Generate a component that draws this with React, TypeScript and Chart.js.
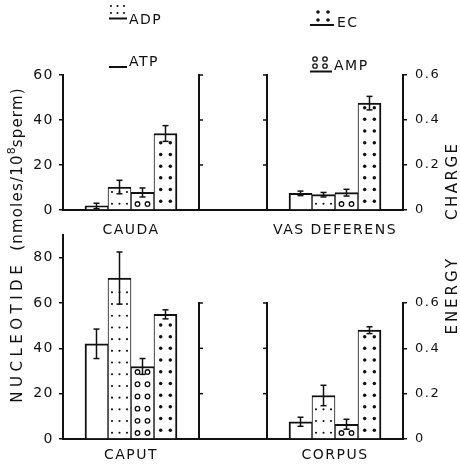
import React, { useEffect, useRef } from 'react';
import { Chart, registerables } from 'chart.js';

Chart.register(...registerables);

// ---------- data ----------
const SERIES = ['ATP', 'ADP', 'AMP', 'EC'];
const TOP_REGIONS = ['CAUDA', 'VAS DEFERENS'];
const BOTTOM_REGIONS = ['CAPUT', 'CORPUS'];

// nucleotides in nmoles/10^8 sperm, energy charge as fraction
const TOP_ATP = [1.8, 7.4];
const TOP_ADP = [10.2, 6.8];
const TOP_AMP = [7.8, 7.7];
const TOP_EC = [0.34, 0.475];
const TOP_ATP_SE = [1.2, 1.0];
const TOP_ADP_SE = [3.0, 1.0];
const TOP_AMP_SE = [2.0, 1.5];
const TOP_EC_SE = [0.035, 0.03];

const BOTTOM_ATP = [42, 7.6];
const BOTTOM_ADP = [71, 19.2];
const BOTTOM_AMP = [32, 6.5];
const BOTTOM_EC = [0.55, 0.48];
const BOTTOM_ATP_SE = [6.5, 2.0];
const BOTTOM_ADP_SE = [11.5, 4.5];
const BOTTOM_AMP_SE = [3.5, 2.2];
const BOTTOM_EC_SE = [0.02, 0.015];

const TOP_NUC_TICKS = [0, 20, 40, 60];
const BOTTOM_NUC_TICKS = [0, 20, 40, 60, 80];
const EC_TICKS = [0, 0.2, 0.4, 0.6];

const TOP_NUC_MAX = 60;
const BOTTOM_NUC_MAX = 90;

// ---------- drawing helpers ----------
const FONT = '"DejaVu Sans", sans-serif';
const INK = '#111';

function drawFill(ctx: CanvasRenderingContext2D, kind: string, left: number, top: number, right: number, bottom: number) {
  if (kind === 'ATP') return;
  const cx = (left + right) / 2;
  ctx.save();
  ctx.beginPath();
  ctx.rect(left, top, right - left, bottom - top);
  ctx.clip();
  ctx.fillStyle = INK;
  ctx.strokeStyle = INK;
  let cols: number[];
  let start: number;
  let step: number;
  let r: number;
  if (kind === 'ADP') { cols = [-7.5, 0, 7.5]; start = 4.5; step = 11.7; r = 1.05; }
  else if (kind === 'AMP') { cols = [-5, 5]; start = 4.2; step = 12.2; r = 2.3; }
  else { cols = [-4.8, 4.8]; start = 7; step = 11.7; r = 1.75; }
  for (let yy = bottom - start; yy > top + 1; yy -= step) {
    for (const dx of cols) {
      ctx.beginPath();
      ctx.arc(cx + dx, yy, r, 0, Math.PI * 2);
      if (kind === 'AMP') { ctx.lineWidth = 1.3; ctx.stroke(); } else ctx.fill();
    }
  }
  ctx.restore();
}

function line(ctx: CanvasRenderingContext2D, x1: number, y1: number, x2: number, y2: number, w: number) {
  ctx.beginPath();
  ctx.lineWidth = w;
  ctx.moveTo(x1, y1);
  ctx.lineTo(x2, y2);
  ctx.stroke();
}

function dot(ctx: CanvasRenderingContext2D, x: number, y: number, r: number, open = false) {
  ctx.beginPath();
  ctx.arc(x, y, r, 0, Math.PI * 2);
  if (open) { ctx.lineWidth = 1.3; ctx.stroke(); } else ctx.fill();
}

type Piece = { t: string; size: number; ls: number; sup?: boolean; gap?: number };

function drawVerticalText(ctx: CanvasRenderingContext2D, pieces: Piece[], cx: number, cy: number) {
  ctx.save();
  ctx.translate(cx, cy);
  ctx.rotate(-Math.PI / 2);
  ctx.textAlign = 'left';
  ctx.textBaseline = 'middle';
  const widths = pieces.map((p) => {
    ctx.font = `${p.size}px ${FONT}`;
    (ctx as any).letterSpacing = `${p.ls}px`;
    return ctx.measureText(p.t).width;
  });
  const total = pieces.reduce((s, p, i) => s + widths[i] + (p.gap || 0), 0);
  let x = -total / 2;
  pieces.forEach((p, i) => {
    ctx.font = `${p.size}px ${FONT}`;
    (ctx as any).letterSpacing = `${p.ls}px`;
    ctx.fillText(p.t, x, p.sup ? -5.5 : 0);
    x += widths[i] + (p.gap || 0);
  });
  ctx.restore();
}

function drawDecor(ctx: CanvasRenderingContext2D) {
  ctx.save();
  ctx.fillStyle = INK;
  ctx.strokeStyle = INK;
  ctx.font = `14px ${FONT}`;
  (ctx as any).letterSpacing = '1.5px';
  ctx.textAlign = 'left';
  ctx.textBaseline = 'alphabetic';
  // ADP swatch
  for (const yy of [6, 13]) for (const xx of [111, 117.5, 124]) dot(ctx, xx, yy, 1.05);
  line(ctx, 109, 18.5, 127, 18.5, 2);
  ctx.fillText(SERIES[1], 129, 24);
  // ATP swatch
  line(ctx, 109, 67, 127, 67, 2);
  ctx.fillText(SERIES[0], 129, 66);
  // EC swatch
  for (const yy of [12, 20]) for (const xx of [318, 328]) dot(ctx, xx, yy, 1.8);
  line(ctx, 310, 25, 334, 25, 2);
  ctx.fillText(SERIES[3], 337, 27);
  // AMP swatch
  for (const yy of [59, 66]) for (const xx of [315, 325]) dot(ctx, xx, yy, 2.2, true);
  line(ctx, 310, 71.5, 332, 71.5, 2);
  ctx.fillText(SERIES[2], 334, 70);

  drawVerticalText(ctx, [
    { t: 'NUCLEOTIDE', size: 15, ls: 4.5, gap: 10 },
    { t: '(nmoles/10', size: 15, ls: 1.2 },
    { t: '8', size: 11, ls: 0, sup: true },
    { t: 'sperm)', size: 15, ls: 1.2 },
  ], 18, 245);
  drawVerticalText(ctx, [
    { t: 'ENERGY', size: 15, ls: 3, gap: 36 },
    { t: 'CHARGE', size: 15, ls: 2.5 },
  ], 453, 238);
  ctx.restore();
}

const figurePlugin = {
  id: 'figure',
  beforeDraw(chart: any) {
    chart.ctx.letterSpacing = '1.5px';
  },
  afterDatasetsDraw(chart: any, _args: any, opts: any) {
    const ctx: CanvasRenderingContext2D = chart.ctx;
    const xs = chart.scales.x;
    const ys = chart.scales.y;
    const y2 = chart.scales.y2;
    ctx.save();
    ctx.strokeStyle = INK;
    ctx.fillStyle = INK;
    // patterns
    chart.data.datasets.forEach((ds: any, k: number) => {
      const meta = chart.getDatasetMeta(k);
      meta.data.forEach((bar: any) => {
        const p = bar.getProps(['x', 'y', 'base', 'width'], true);
        drawFill(ctx, SERIES[k], p.x - p.width / 2 + 1, p.y + 2, p.x + p.width / 2 - 1, p.base - 1);
      });
    });
    // error bars
    chart.data.datasets.forEach((ds: any, k: number) => {
      const meta = chart.getDatasetMeta(k);
      const scale = k === 3 ? y2 : ys;
      const errs: number[] = opts.errors[k];
      meta.data.forEach((bar: any, i: number) => {
        const v = ds.data[i].y;
        const e = errs[i];
        const px = bar.getProps(['x'], true).x;
        const t = scale.getPixelForValue(v + e);
        const b = scale.getPixelForValue(Math.max(0, v - e));
        line(ctx, px, t, px, b, 1.5);
        line(ctx, px - 3, t, px + 3, t, 1.5);
        line(ctx, px - 3, b, px + 3, b, 1.5);
      });
    });
    // inner charge axes and right axis line (0 to 0.6)
    const y0 = y2.getPixelForValue(0);
    const yTop = y2.getPixelForValue(EC_TICKS[EC_TICKS.length - 1]);
    const xa = xs.getPixelForValue(2);
    const xb = xs.getPixelForValue(3);
    const xr = chart.chartArea.right;
    line(ctx, xa, y0, xa, yTop - 1, 2);
    line(ctx, xb, y0, xb, yTop - 1, 2);
    line(ctx, xr, y0, xr, yTop - 1, 2);
    for (const v of EC_TICKS.slice(1)) {
      const yy = y2.getPixelForValue(v);
      line(ctx, xa, yy, xa + 4, yy, 1.5);
      line(ctx, xb - 4, yy, xb, yy, 1.5);
    }
    ctx.restore();
  },
  afterDraw(chart: any, _args: any, opts: any) {
    if (opts.decor) drawDecor(chart.ctx);
    chart.ctx.letterSpacing = '0px';
  },
};

type PanelSpec = {
  regions: string[];
  values: number[][];
  errors: number[][];
  nucMax: number;
  nucTicks: number[];
  areaTop: number;
  axisHeight: number;
  labelPad: number;
  decor: boolean;
};

function makeConfig(p: PanelSpec): any {
  const slot = (i: number) => 1 + 3 * i;
  const borders = [
    { left: 2, right: 1, top: 2, bottom: 0 },
    { left: 1, right: 1, top: 2, bottom: 0 },
    { left: 1, right: 1, top: 2, bottom: 0 },
    { left: 1, right: 2, top: 2, bottom: 0 },
  ];
  const tickFont = { family: FONT, size: 14 };
  const chargeMax = p.nucMax / 100;
  return {
    type: 'bar',
    data: {
      datasets: SERIES.map((name, k) => ({
        label: name,
        data: p.values[k].map((v, i) => ({ x: slot(i), y: v })),
        yAxisID: k === 3 ? 'y2' : 'y',
        backgroundColor: '#fff',
        borderColor: INK,
        borderWidth: borders[k],
        borderSkipped: 'bottom',
        barThickness: 23,
      })),
    },
    options: {
      responsive: false,
      animation: false,
      events: [],
      layout: { padding: { top: p.areaTop, left: 0, right: 0, bottom: 0 } },
      plugins: {
        legend: { display: false },
        tooltip: { enabled: false },
        figure: { errors: p.errors, decor: p.decor },
      },
      scales: {
        x: {
          type: 'linear',
          min: 0,
          max: 5,
          bounds: 'data',
          stacked: false,
          offset: false,
          afterBuildTicks: (s: any) => { s.ticks = p.regions.map((_, i) => ({ value: slot(i) })); },
          afterFit: (s: any) => { s.height = p.axisHeight; },
          ticks: {
            autoSkip: false,
            maxRotation: 0,
            padding: p.labelPad,
            color: INK,
            font: { family: FONT, size: 14 },
            callback: (_v: any, i: number) => p.regions[i],
          },
          grid: { display: false, drawTicks: false },
          border: { display: true, color: INK, width: 2 },
        },
        y: {
          type: 'linear',
          position: 'left',
          min: 0,
          max: p.nucMax,
          bounds: 'data',
          afterBuildTicks: (s: any) => { s.ticks = p.nucTicks.map((v) => ({ value: v })); },
          afterFit: (s: any) => { s.width = 63; },
          ticks: { padding: 5, color: INK, font: tickFont, callback: (v: any) => String(v) },
          grid: { drawOnChartArea: false, drawTicks: true, tickLength: 4, color: INK, lineWidth: 1.5 },
          border: { display: true, color: INK, width: 2 },
        },
        y2: {
          type: 'linear',
          position: 'right',
          min: 0,
          max: chargeMax,
          bounds: 'data',
          afterBuildTicks: (s: any) => { s.ticks = EC_TICKS.map((v) => ({ value: v })); },
          afterFit: (s: any) => { s.width = 57; },
          ticks: {
            padding: 8,
            color: INK,
            font: { family: FONT, size: 13 },
            callback: (v: any) => (v === 0 ? '0' : Number(v).toFixed(1)),
          },
          grid: { drawOnChartArea: false, drawTicks: true, tickLength: 4, color: INK, lineWidth: 1.5 },
          border: { display: false },
        },
      },
    },
    plugins: [figurePlugin],
  };
}

export default function App() {
  const topRef = useRef<HTMLCanvasElement>(null);
  const botRef = useRef<HTMLCanvasElement>(null);

  useEffect(() => {
    const top = new Chart(topRef.current as HTMLCanvasElement, makeConfig({
      regions: TOP_REGIONS,
      values: [TOP_ATP, TOP_ADP, TOP_AMP, TOP_EC],
      errors: [TOP_ATP_SE, TOP_ADP_SE, TOP_AMP_SE, TOP_EC_SE],
      nucMax: TOP_NUC_MAX,
      nucTicks: TOP_NUC_TICKS,
      areaTop: 75,
      axisHeight: 262,
      labelPad: 12,
      decor: true,
    }));
    const bottom = new Chart(botRef.current as HTMLCanvasElement, makeConfig({
      regions: BOTTOM_REGIONS,
      values: [BOTTOM_ATP, BOTTOM_ADP, BOTTOM_AMP, BOTTOM_EC],
      errors: [BOTTOM_ATP_SE, BOTTOM_ADP_SE, BOTTOM_AMP_SE, BOTTOM_EC_SE],
      nucMax: BOTTOM_NUC_MAX,
      nucTicks: BOTTOM_NUC_TICKS,
      areaTop: 235,
      axisHeight: 33,
      labelPad: 8,
      decor: false,
    }));
    return () => {
      top.destroy();
      bottom.destroy();
    };
  }, []);

  return (
    <div style={{ position: 'fixed', left: 0, top: 0, width: 460, height: 472, background: '#fff' }}>
      <canvas ref={botRef} width={460} height={472} style={{ position: 'absolute', left: 0, top: 0 }} />
      <canvas ref={topRef} width={460} height={472} style={{ position: 'absolute', left: 0, top: 0 }} />
    </div>
  );
}
